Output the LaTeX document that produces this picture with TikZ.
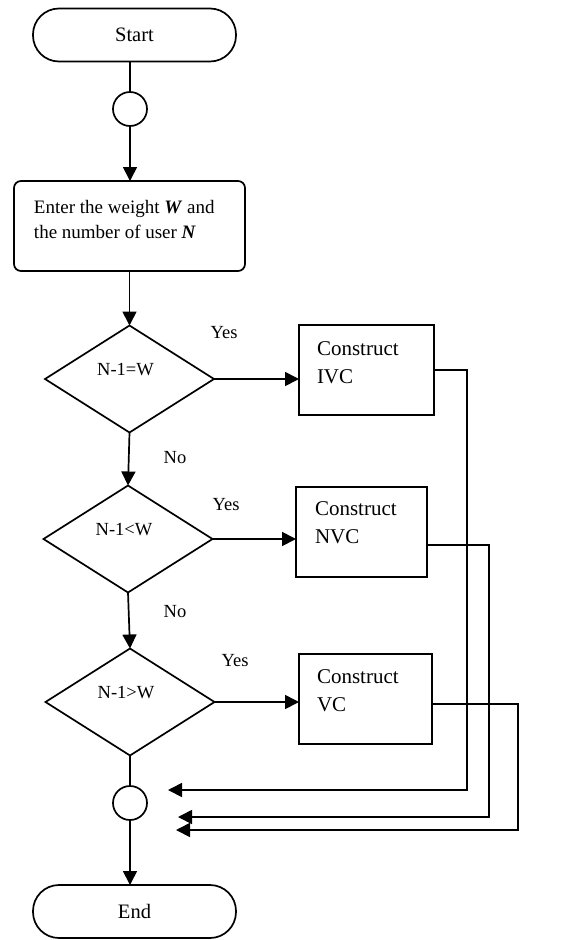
\documentclass[tikz,border=0pt]{standalone}
\usepackage{fontspec}
\setmainfont{Liberation Serif}
\usetikzlibrary{shapes.geometric,arrows.meta}
\begin{document}
\begin{tikzpicture}[x=1pt,y=-1pt,
  every node/.style={inner sep=0pt, outer sep=0pt},
  ln/.style={line width=1.7pt},
  arr/.style={ln,-{Triangle[length=14pt,width=14pt]}},
  term/.style={draw,ln,rectangle,rounded corners=26pt,minimum width=203pt,minimum height=53pt,font=\fontsize{20.5}{24}\selectfont},
  conn/.style={draw,ln,circle,minimum size=34pt},
  proc/.style={draw,ln,rectangle,rounded corners=7pt,minimum width=231pt,minimum height=90pt},
  dec/.style={draw,ln,diamond,minimum width=169pt,minimum height=107pt},
  act/.style={draw,ln,rectangle,minimum height=90pt},
  lbl/.style={font=\fontsize{18.5}{22}\selectfont},
  dtext/.style={lbl,anchor=center,xshift=-4pt,yshift=9pt},
  atext/.style={anchor=north west,align=left,font=\fontsize{21}{28}\selectfont,xshift=18pt,yshift=-17pt},
]
\path[use as bounding box] (0,0) rectangle (573,940);

\node[term] (start) at (134.5,35) {Start};
\node[conn] (c1) at (130,109) {};
\node[proc, label={[anchor=north west,align=left,font=\fontsize{19}{25}\selectfont,xshift=20pt,yshift=-19pt]north west:{Enter the weight \textbf{\textit{W}} and\\the number of user \textbf{\textit{N}}}}] (enter) at (129.5,226) {};

\node[dec, label={[dtext]center:N-1=W}] (d1) at (129.5,379) {};
\node[dec, label={[dtext]center:N-1<W}] (d2) at (128,539) {};
\node[dec, label={[dtext]center:N-1>W}] (d3) at (130,702) {};

\node[act, minimum width=135pt, label={[atext]north west:{Construct\\IVC}}] (b1) at (366.5,370) {};
\node[act, minimum width=131pt, label={[atext,xshift=1pt,yshift=2pt]north west:{Construct\\NVC}}] (b2) at (361.5,532) {};
\node[act, minimum width=133pt, label={[atext,yshift=1pt]north west:{Construct\\VC}}] (b3) at (365.5,699) {};

\node[conn] (c2) at (130,803) {};
\node[term] (end) at (134.5,911.5) {End};

\node[lbl] (y1) at (224,333) {Yes};
\node[lbl] (y2) at (226,505) {Yes};
\node[lbl] (y3) at (235,661) {Yes};
\node[lbl] (n1) at (175,458) {No};
\node[lbl] (n2) at (175,612) {No};

\draw[ln] (c1 |- start.south) -- (c1.north);
\draw[arr] (c1.south) -- (c1.south |- enter.north);
\draw[arr] (enter.south) -- (d1.north);
\draw[arr] (d1.east) -- (d1.east -| b1.west);
\draw[arr] (d1.south) -- (d2.north);
\draw[arr] (d2.east) -- (d2.east -| b2.west);
\draw[arr] (d2.south) -- (d3.north);
\draw[arr] (d3.east) -- (d3.east -| b3.west);
\draw[ln] (d3.south) -- (c2.north);
\draw[arr] (c2.south) -- (c2.south |- end.north);

\coordinate (k1) at (467,790); \coordinate (t1) at (168,790);
\coordinate (k2) at (489,817); \coordinate (t2) at (178,817);
\coordinate (k3) at (518,830); \coordinate (t3) at (176,830);
\draw[arr] (b1.east) -| (k1) -- (t1);
\draw[arr] ([yshift=-13pt]b2.east) -| (k2) -- (t2);
\draw[arr] ([yshift=-5pt]b3.east) -| (k3) -- (t3);
\end{tikzpicture}
\end{document}
